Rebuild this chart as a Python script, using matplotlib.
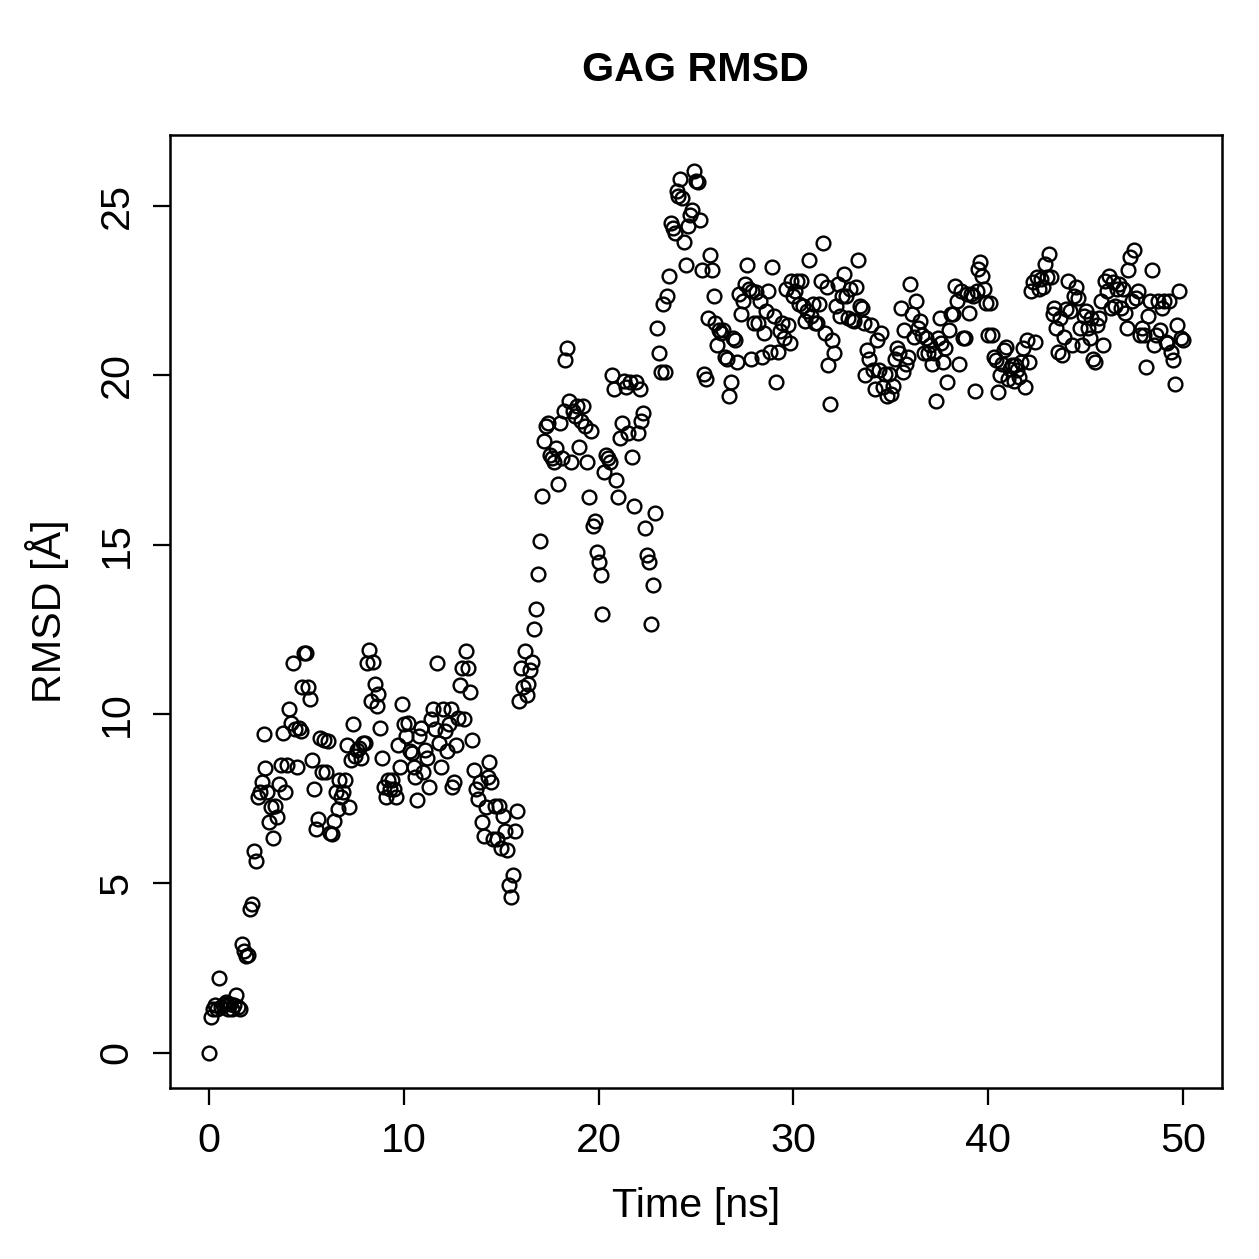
import numpy as np
import matplotlib
matplotlib.use("Agg")
import matplotlib.pyplot as plt

plt.rcParams['font.family'] = ['Liberation Sans', 'DejaVu Sans']

# RMSD values (Å), one every 0.1 ns from 0 to 50 ns
rmsd_0_10 = [
    0, 1.05, 1.3, 1.4, 1.3, 2.2, 1.35, 1.4, 1.45, 1.5,
    1.3, 1.45, 1.3, 1.4, 1.7, 1.35, 1.3, 3.2, 3.0, 2.85,
    2.9, 4.25, 4.4, 5.95, 5.65, 7.55, 7.7, 8.0, 9.4, 8.4,
    7.7, 6.8, 7.25, 6.35, 7.3, 6.95, 7.95, 8.5, 9.45, 7.7,
    8.5, 10.15, 9.75, 11.5, 9.55, 8.45, 9.6, 9.5, 10.8, 11.8,
    11.8, 10.8, 10.45, 8.65, 7.8, 6.6, 6.9, 9.3, 8.3, 9.25,
    8.3, 9.2, 6.5, 6.45, 6.85, 7.7, 7.2, 8.05, 7.55, 7.7,
    8.05, 9.1, 7.25, 8.65, 9.7, 8.75, 8.95, 9.0, 8.7, 9.15,
    9.15, 11.5, 11.9, 10.4, 11.55, 10.9, 10.25, 10.6, 9.6, 8.7,
    7.85, 7.55, 8.05, 7.8, 8.05, 7.8, 7.55, 9.1, 8.45, 10.3,
]
rmsd_10_20 = [
    9.7, 9.35, 9.75, 8.9, 8.85, 8.45, 8.15, 7.45, 9.35, 9.6,
    8.3, 8.95, 8.7, 7.85, 9.85, 10.15, 9.55, 11.5, 9.15, 8.45,
    10.15, 9.5, 8.9, 9.7, 10.15, 7.85, 8.0, 9.1, 9.9, 10.85,
    11.35, 9.85, 11.85, 11.35, 10.65, 9.25, 8.35, 7.8, 7.5, 8.0,
    6.8, 6.4, 7.25, 8.15, 8.6, 8.0, 6.3, 7.3, 6.3, 7.3,
    6.05, 7.0, 6.55, 6.0, 4.95, 4.6, 5.25, 6.55, 7.15, 10.4,
    11.35, 10.8, 11.85, 10.55, 10.9, 11.3, 11.55, 12.5, 13.1, 14.15,
    15.1, 16.45, 18.05, 18.5, 18.6, 17.65, 17.55, 17.45, 17.85, 16.8,
    18.6, 17.55, 18.95, 20.45, 20.8, 19.25, 17.45, 18.95, 18.8, 19.1,
    17.9, 18.65, 19.1, 18.5, 17.45, 16.4, 18.35, 15.55, 15.7, 14.8,
]
rmsd_20_30 = [
    14.5, 14.1, 12.95, 17.15, 17.65, 17.55, 17.45, 20.0, 19.6, 16.9,
    16.4, 18.15, 18.6, 19.85, 19.65, 18.3, 19.8, 17.6, 16.15, 19.8,
    18.3, 19.6, 18.65, 18.9, 15.5, 14.7, 14.5, 12.65, 13.8, 15.95,
    21.4, 20.65, 20.1, 22.1, 20.1, 22.35, 22.95, 24.5, 24.35, 24.2,
    25.45, 25.3, 25.8, 25.25, 23.95, 23.25, 24.4, 24.75, 24.9, 26.05,
    25.75, 25.7, 24.6, 23.1, 20.05, 19.9, 21.7, 23.55, 23.1, 22.35,
    21.55, 20.9, 21.35, 21.25, 21.35, 20.55, 20.5, 19.4, 19.8, 21.1,
    21.05, 20.4, 22.4, 21.8, 22.2, 22.7, 23.25, 22.55, 20.5, 22.5,
    21.55, 22.45, 21.55, 22.2, 20.55, 21.25, 21.9, 22.5, 20.7, 23.2,
    21.75, 19.8, 20.7, 21.3, 21.55, 21.1, 22.55, 21.5, 20.95, 22.8,
]
rmsd_30_40 = [
    22.35, 22.5, 22.8, 22.1, 22.8, 22.05, 21.6, 21.9, 23.4, 21.75,
    22.1, 21.55, 21.55, 22.1, 22.8, 23.9, 21.25, 22.6, 20.3, 19.15,
    21.05, 20.65, 22.05, 22.7, 21.75, 22.35, 23.0, 22.35, 21.7, 22.55,
    21.65, 21.6, 22.6, 23.4, 22.05, 22.0, 21.55, 20.0, 20.75, 20.5,
    21.5, 20.15, 19.6, 21.05, 20.15, 21.25, 19.65, 20.05, 19.4, 20.05,
    19.45, 19.7, 20.5, 20.8, 20.65, 22.0, 20.1, 21.35, 20.35, 20.55,
    22.7, 21.8, 21.15, 22.2, 21.4, 21.6, 21.2, 20.65, 21.1, 20.65,
    20.9, 20.35, 20.65, 19.25, 21.1, 21.7, 20.95, 20.4, 20.8, 19.8,
    21.35, 21.8, 21.8, 22.65, 22.2, 20.35, 22.5, 21.1, 21.1, 22.4,
    21.85, 22.4, 22.35, 19.55, 22.5, 23.15, 23.35, 22.95, 22.55, 22.15,
]
rmsd_40_50 = [
    21.2, 22.15, 21.2, 20.55, 20.45, 19.5, 20.0, 20.35, 20.75, 20.85,
    19.9, 20.2, 20.3, 19.85, 20.3, 20.15, 19.95, 20.4, 20.8, 19.65,
    21.05, 20.4, 22.5, 22.75, 21.0, 22.9, 22.55, 22.85, 22.6, 23.3,
    22.9, 23.6, 22.9, 21.8, 22.0, 21.4, 20.7, 21.7, 20.6, 21.15,
    21.95, 22.8, 21.9, 20.9, 22.35, 22.6, 22.3, 21.4, 20.9, 21.75,
    21.9, 21.4, 21.1, 21.7, 20.5, 20.4, 21.5, 21.7, 22.2, 20.9,
    22.8, 22.5, 22.95, 22.0, 22.75, 22.05, 22.55, 22.7, 22.0, 22.55,
    21.85, 21.4, 23.1, 23.5, 22.2, 23.7, 22.3, 22.5, 21.2, 21.4,
    21.2, 20.25, 21.75, 22.2, 23.1, 20.9, 21.2, 22.2, 21.35, 22.0,
    22.2, 21.0, 20.95, 22.2, 20.7, 20.45, 19.75, 21.5, 22.5, 21.1,
    21.05,
]
rmsd = np.array(rmsd_0_10 + rmsd_10_20 + rmsd_20_30 + rmsd_30_40 + rmsd_40_50)
time_ns = np.arange(len(rmsd)) * 0.1

title = "GAG RMSD"
xlabel = "Time [ns]"
ylabel = "RMSD [Å]"
xticks = [0, 10, 20, 30, 40, 50]
yticks = [0, 5, 10, 15, 20, 25]

fig = plt.figure(figsize=(1259 / 180, 1259 / 180), dpi=180)
ax = fig.add_axes([170 / 1259, 1 - 1088 / 1259, (1222 - 170) / 1259, (1088 - 135) / 1259])

ax.plot(time_ns, rmsd, linestyle='none', marker='o', markersize=5.5,
        markerfacecolor='none', markeredgecolor='black', markeredgewidth=0.95)

ax.set_xlim(-2, 52)
ax.set_ylim(-1.04, 27.1)
ax.set_xticks(xticks)
ax.set_yticks(yticks)
ax.tick_params(axis='both', direction='out', length=6.8, width=0.9, labelsize=16.5, pad=7)
ax.tick_params(axis='y', labelrotation=90)
for lab in ax.get_yticklabels():
    lab.set_va('center')
for s in ax.spines.values():
    s.set_linewidth(1.0)

ax.set_xlabel(xlabel, fontsize=16.5, labelpad=10.5)
ax.set_ylabel(ylabel, fontsize=16.5, labelpad=11.5)
fig.text(695 / 1259, 1 - 70 / 1259, title, ha='center', va='center', fontsize=16.5, fontweight='bold')

fig.savefig("out.png", dpi=180)
